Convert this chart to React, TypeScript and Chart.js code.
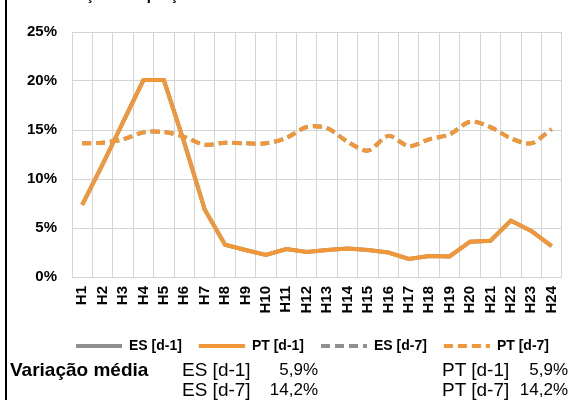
import { useEffect, useRef } from "react";
import { Chart, registerables } from "chart.js";

Chart.register(...registerables);

const hours = ["H1","H2","H3","H4","H5","H6","H7","H8","H9","H10","H11","H12","H13","H14","H15","H16","H17","H18","H19","H20","H21","H22","H23","H24"];
const ptD1 = [7.35,11.5,15.8,20.1,20.1,13.7,6.9,3.3,2.75,2.25,2.85,2.55,2.75,2.9,2.75,2.5,1.85,2.15,2.1,3.6,3.7,5.75,4.7,3.15];
const esD1 = [7.35,11.5,15.8,20.1,20.1,13.7,6.9,3.3,2.75,2.25,2.85,2.55,2.75,2.9,2.75,2.5,1.85,2.15,2.1,3.6,3.7,5.75,4.7,3.15];
const ptD7 = [13.64,13.7,14.05,14.76,14.8,14.3,13.5,13.7,13.64,13.64,14.2,15.3,15.2,13.8,12.9,14.4,13.35,14.05,14.55,15.85,15.3,14.15,13.64,15.1];
const esD7 = [13.64,13.7,14.05,14.76,14.8,14.3,13.5,13.7,13.64,13.64,14.2,15.3,15.2,13.8,12.9,14.4,13.35,14.05,14.55,15.85,15.3,14.15,13.64,15.1];
const seriesLabels = ["ES [d-1]", "PT [d-1]", "ES [d-7]", "PT [d-7]"];
const yMin = 0;
const yMax = 25;
const yStep = 5;
const titleText = "Variação dos preços";
const summaryTitle = "Variação média";
const summaryLeftNames = ["ES [d-1]", "ES [d-7]"];
const summaryLeftValues = ["5,9%", "14,2%"];
const summaryRightNames = ["PT [d-1]", "PT [d-7]"];
const summaryRightValues = ["5,9%", "14,2%"];

const ORANGE = "rgb(241,151,56)";
const GRAY = "rgb(143,143,143)";
const GRID = "#d4d4d4";
const FONT = "'Liberation Sans', Arial, sans-serif";
const LEGEND_SHIFT = 21;

const legendShift = {
  id: "legendShift",
  afterLayout(chart: any) {
    const lg = chart.legend;
    if (lg) {
      lg.left += LEGEND_SHIFT;
      lg.right += LEGEND_SHIFT;
    }
  },
};

export default function App() {
  const ref = useRef<HTMLCanvasElement | null>(null);

  useEffect(() => {
    if (!ref.current) return;
    const defaultGen = (Chart.defaults.plugins.legend.labels as any).generateLabels;
    const chart = new Chart(ref.current, {
      type: "line",
      plugins: [legendShift],
      data: {
        labels: hours,
        datasets: [
          { label: seriesLabels[0], data: esD1, borderColor: GRAY, backgroundColor: GRAY, borderWidth: 4, pointRadius: 0, tension: 0, order: 4 },
          { label: seriesLabels[1], data: ptD1, borderColor: ORANGE, backgroundColor: ORANGE, borderWidth: 4, pointRadius: 0, tension: 0, order: 2 },
          { label: seriesLabels[2], data: esD7, borderColor: GRAY, backgroundColor: GRAY, borderWidth: 4, borderDash: [9, 5], pointRadius: 0, tension: 0.3, order: 3 },
          { label: seriesLabels[3], data: ptD7, borderColor: ORANGE, backgroundColor: ORANGE, borderWidth: 4, borderDash: [9, 5], pointRadius: 0, tension: 0.3, order: 1 },
        ],
      },
      options: {
        animation: false,
        responsive: true,
        maintainAspectRatio: false,
        layout: { padding: { left: 20, right: 16, top: 32, bottom: 5 } },
        plugins: {
          tooltip: { enabled: false },
          legend: {
            position: "bottom",
            labels: {
              usePointStyle: true,
              pointStyle: "line",
              pointStyleWidth: 46,
              boxHeight: 14,
              padding: 17,
              color: "#000",
              font: { family: FONT, size: 14, weight: "bold" },
              sort: (a: any, b: any) => a.datasetIndex - b.datasetIndex,
              generateLabels: (c: any) =>
                defaultGen(c).map((it: any) => {
                  const ds = c.data.datasets[it.datasetIndex];
                  return { ...it, lineDash: ds.borderDash || [], lineWidth: 4, strokeStyle: ds.borderColor };
                }),
            },
          },
        },
        scales: {
          x: {
            offset: true,
            grid: { offset: true, color: GRID, lineWidth: 1, drawTicks: false },
            border: { color: GRID },
            ticks: {
              autoSkip: false,
              minRotation: 90,
              maxRotation: 90,
              padding: 9,
              color: "#000",
              font: { family: FONT, size: 15, weight: "bold" },
            },
            afterFit: (s: any) => { s.height = 45; },
          },
          y: {
            min: yMin,
            max: yMax,
            grid: { color: GRID, lineWidth: 1, drawTicks: false },
            border: { color: GRID },
            ticks: {
              stepSize: yStep,
              padding: 15,
              color: "#000",
              font: { family: FONT, size: 15, weight: "bold" },
              callback: (v: any) => v + "%",
            },
            afterFit: (s: any) => { s.width = 52; },
          },
        },
      },
    });
    return () => chart.destroy();
  }, []);

  const textBase: React.CSSProperties = { position: "absolute", fontFamily: FONT, color: "#000", whiteSpace: "nowrap" };
  const rowTop = 361;
  const rowGap = 20;

  return (
    <div style={{ position: "fixed", left: 0, top: 0, width: 579, height: 400, overflow: "hidden", background: "#fff" }}>
      <div style={{ position: "absolute", left: 0, top: 0, width: 579, height: 368 }}>
        <canvas ref={ref} />
      </div>
      <div style={{ ...textBase, left: 50, top: -13, fontSize: 15, lineHeight: "15px", fontWeight: "bold" }}>{titleText}</div>
      <div style={{ position: "absolute", left: 5, top: 0, width: 2, height: 400, background: "#000" }} />
      <div style={{ ...textBase, left: 10, top: rowTop, fontSize: 19, lineHeight: "18px", fontWeight: "bold" }}>{summaryTitle}</div>
      {summaryLeftNames.map((n, i) => (
        <div key={"ln" + i} style={{ ...textBase, left: 182, top: rowTop + i * rowGap, fontSize: 19, lineHeight: "18px" }}>{n}</div>
      ))}
      {summaryLeftValues.map((v, i) => (
        <div key={"lv" + i} style={{ ...textBase, right: 579 - 318, top: rowTop + i * rowGap, fontSize: 17, lineHeight: "18px", textAlign: "right" }}>{v}</div>
      ))}
      {summaryRightNames.map((n, i) => (
        <div key={"rn" + i} style={{ ...textBase, left: 442, top: rowTop + i * rowGap, fontSize: 19, lineHeight: "18px" }}>{n}</div>
      ))}
      {summaryRightValues.map((v, i) => (
        <div key={"rv" + i} style={{ ...textBase, right: 579 - 568, top: rowTop + i * rowGap, fontSize: 17, lineHeight: "18px", textAlign: "right" }}>{v}</div>
      ))}
    </div>
  );
}
